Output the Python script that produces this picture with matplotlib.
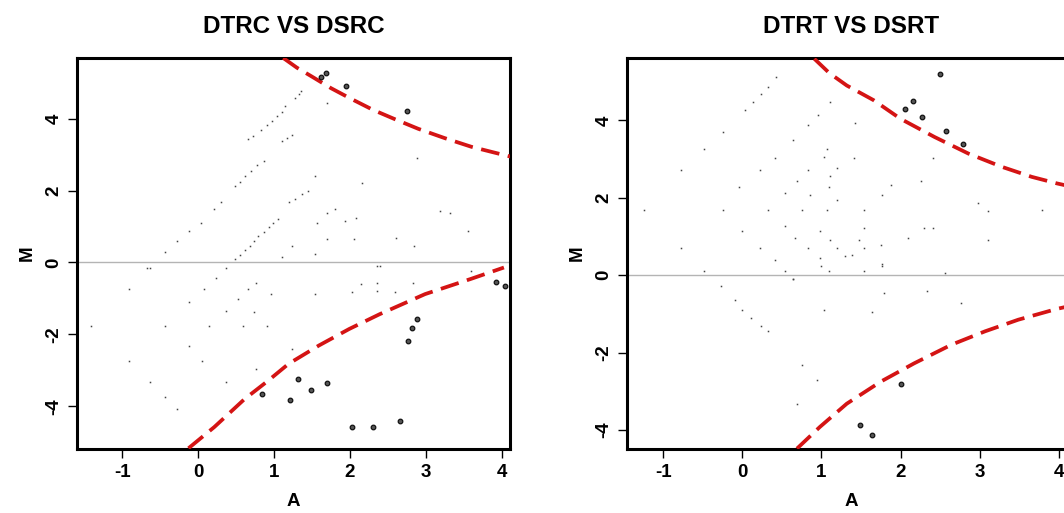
import matplotlib
matplotlib.use('Agg')
import matplotlib.pyplot as plt

plt.rcParams['font.family'] = ['Liberation Sans', 'DejaVu Sans']
plt.rcParams['font.weight'] = 'bold'
plt.rcParams['axes.unicode_minus'] = False

# ---- left panel: DTRC vs DSRC ----
L_TINY_A = [0.48, 0.55, 0.62, 0.70, 0.78, 0.86, 0.65, 0.72, 0.83, 0.90, 0.97, 1.04, 1.10, 1.14,
            1.10, 1.17, 1.23, 1.28, 1.33, 1.36,
            0.48, 0.55, 0.62, 0.68, 0.74, 0.79, 0.86, 0.93, 0.99, 1.05, 1.19, 1.28, 1.37, 1.45,
            -0.68, -0.44, -0.28, -0.12, 0.03, 0.21, 0.30,
            1.23, 1.10, 1.54, 1.56, 1.70, 1.80, 1.70, 1.94, 2.08, 2.05, 2.16, 1.54, 1.70,
            2.61, 2.85, 2.88, 3.19, 3.32, 3.56, 2.39,
            -0.64, 0.36, 0.23, 0.08, -0.12, -0.92, -1.41, -0.44, 0.14, 0.59, 0.90, 0.52, 0.65,
            0.76, 0.74, 0.36, 0.96, 1.54, -0.12, -0.92, 0.05, -0.64, 0.36, 0.76, -0.44, -0.28,
            1.23, 2.03, 2.14, 2.36, 2.36, 2.59, 2.83, 3.59, 2.36]
L_TINY_M = [2.13, 2.25, 2.40, 2.55, 2.72, 2.82, 3.43, 3.52, 3.70, 3.82, 3.95, 4.08, 4.20, 4.35,
            3.38, 3.46, 3.55, 4.58, 4.68, 4.77,
            0.09, 0.22, 0.35, 0.47, 0.60, 0.74, 0.86, 0.98, 1.10, 1.20, 1.67, 1.78, 1.90, 1.99,
            -0.14, 0.28, 0.60, 0.88, 1.11, 1.48, 1.67,
            0.46, 0.14, 0.23, 1.11, 1.39, 1.48, 0.65, 1.16, 1.25, 0.65, 2.22, 2.41, 4.44,
            0.69, 0.46, 2.92, 1.44, 1.39, 0.88, -0.09,
            -0.14, -0.14, -0.42, -0.74, -1.11, -0.74, -1.76, -1.76, -1.76, -1.76, -1.76, -1.02, -0.74,
            -0.56, -1.39, -1.34, -0.88, -0.88, -2.31, -2.73, -2.73, -3.33, -3.33, -2.96, -3.75, -4.07,
            -2.41, -0.83, -0.60, -0.56, -0.79, -0.83, -0.56, -0.23, -0.09]

L_SIG_A = [1.62, 1.68, 1.95, 2.75, 0.84, 1.21, 1.32, 1.49, 1.70, 2.02, 2.30, 2.66,
           2.76, 2.82, 2.88, 3.93, 4.04]
L_SIG_M = [5.17, 5.27, 4.90, 4.21, -3.66, -3.82, -3.24, -3.56, -3.36, -4.57, -4.57, -4.40,
           -2.18, -1.82, -1.58, -0.54, -0.65]

L_UP_A = [1.12, 1.30, 1.50, 1.75, 2.00, 2.30, 2.60, 2.90, 3.25, 3.60, 3.90, 4.13]
L_UP_M = [5.69, 5.42, 5.17, 4.85, 4.57, 4.25, 3.98, 3.72, 3.46, 3.22, 3.06, 2.94]
L_LO_A = [-0.13, 0.21, 0.61, 0.92, 1.19, 1.59, 1.99, 2.39, 2.99, 3.59, 4.03]
L_LO_M = [-5.17, -4.58, -3.80, -3.29, -2.82, -2.31, -1.85, -1.44, -0.88, -0.46, -0.14]

# ---- right panel: DTRT vs DSRT ----
R_TINY_A = [-1.25, -0.78, -0.78, -0.49, -0.49, -0.25, -0.25, -0.04, 0.00, 0.03, 0.13, 0.24,
            0.32, 0.43, 0.22, 0.22, 0.32, 0.41, 0.41, 0.54, 0.54, 0.54, 0.64, 0.66, 0.69, 0.64,
            0.75, 0.83, 0.86, 0.83, 0.83, 0.96, 0.98, 0.98, 1.03, 1.00, 1.07, 1.07, 1.09, 1.11,
            1.11, 1.11, 1.09, 1.20, 1.20, 1.20, 1.30, 1.39, 1.43, 1.41, 1.47, 1.54, 1.54, 1.54,
            1.54, 1.75, 1.77, 1.77, 1.88, 2.09, 2.26, 2.30, 2.41, 2.41, 2.56, 2.98, 3.11, 3.11,
            3.79,
            -0.27, -0.10, 0.00, 0.11, 0.24, 0.32, 0.64, 1.03, 1.64, 1.79, 2.34, 2.77, 0.75, 0.94,
            0.69, 1.77]
R_TINY_M = [1.69, 2.72, 0.70, 3.27, 0.10, 3.70, 1.69, 2.29, 1.13, 4.26, 4.47, 4.69,
            4.86, 5.12, 2.72, 0.70, 1.69, 3.02, 0.40, 2.12, 1.26, 0.10, 3.49, 0.96, 2.42, -0.11,
            1.69, 2.72, 2.07, 0.70, 3.87, 4.13, 1.13, 0.45, 3.06, 0.23, 3.27, 1.69, 2.29, 2.55,
            4.47, 0.92, 0.10, 2.76, 1.95, 0.70, 0.49, 0.53, 3.92, 3.02, 0.92, 1.69, 1.22, 0.70,
            0.10, 0.79, 0.23, 2.07, 2.33, 0.96, 2.42, 1.22, 1.22, 3.02, 0.06, 1.86, 1.65, 0.92,
            1.69,
            -0.29, -0.63, -0.89, -1.11, -1.32, -1.45, -0.11, -0.89, -0.94, -0.46, -0.42, -0.72, -2.32, -2.71,
            -3.32, 0.28]

R_SIG_A = [2.06, 2.16, 2.27, 2.50, 2.58, 2.79, 2.00, 1.49, 1.64]
R_SIG_M = [4.28, 4.49, 4.09, 5.20, 3.73, 3.39, -2.82, -3.86, -4.14]

R_UP_A = [0.91, 1.10, 1.32, 1.66, 2.00, 2.43, 2.86, 3.28, 3.66, 3.98, 4.20]
R_UP_M = [5.59, 5.22, 4.90, 4.52, 4.04, 3.57, 3.14, 2.80, 2.54, 2.37, 2.27]
R_LO_A = [0.69, 0.98, 1.32, 1.75, 2.17, 2.64, 3.07, 3.49, 3.98, 4.20]
R_LO_M = [-4.48, -3.92, -3.32, -2.75, -2.28, -1.80, -1.45, -1.15, -0.87, -0.77]

fig = plt.figure(figsize=(10.64, 5.13), dpi=100, facecolor='white')

def ma_panel(rect, title, xlim, ylim, tiny_a, tiny_m, sig_a, sig_m, up_a, up_m, lo_a, lo_m):
    ax = fig.add_axes(rect)
    ax.axhline(0, color='#b4b4b4', lw=1, zorder=1)
    ax.plot(tiny_a, tiny_m, ls='none', marker='s', ms=1.1, mew=0, color='#444444', zorder=2)
    ax.plot(up_a, up_m, color='#d41414', lw=2.7, dashes=(5.0, 2.3), zorder=3)
    ax.plot(lo_a, lo_m, color='#d41414', lw=2.7, dashes=(5.0, 2.3), zorder=3)
    ax.plot(sig_a, sig_m, ls='none', marker='o', ms=3.3, mfc='#555555', mec='#111111', mew=0.9, zorder=4)
    ax.set_xlim(*xlim)
    ax.set_ylim(*ylim)
    ax.set_xticks([-1, 0, 1, 2, 3, 4])
    ax.set_yticks([-4, -2, 0, 2, 4])
    ax.tick_params(direction='out', length=6.5, width=1, pad=4, labelsize=13.5)
    for lab in ax.get_yticklabels():
        lab.set_rotation(90)
        lab.set_va('center')
    for s in ax.spines.values():
        s.set_linewidth(2.2)
        s.set_color('black')
    ax.set_title(title, fontsize=17.5, fontweight='bold', pad=18)
    ax.set_xlabel('A', fontsize=13.5, fontweight='bold', labelpad=9)
    ax.set_ylabel('M', fontsize=13.5, fontweight='bold', labelpad=7)
    return ax

ma_panel([77 / 1064, 64 / 513, 433 / 1064, 391 / 513], 'DTRC VS DSRC',
         (-1.60, 4.11), (-5.19, 5.69),
         L_TINY_A, L_TINY_M, L_SIG_A, L_SIG_M, L_UP_A, L_UP_M, L_LO_A, L_LO_M)
ma_panel([627 / 1064, 64 / 513, 449 / 1064, 391 / 513], 'DTRT VS DSRT',
         (-1.46, 4.22), (-4.49, 5.61),
         R_TINY_A, R_TINY_M, R_SIG_A, R_SIG_M, R_UP_A, R_UP_M, R_LO_A, R_LO_M)

fig.savefig('out.png', dpi=100, facecolor='white')
